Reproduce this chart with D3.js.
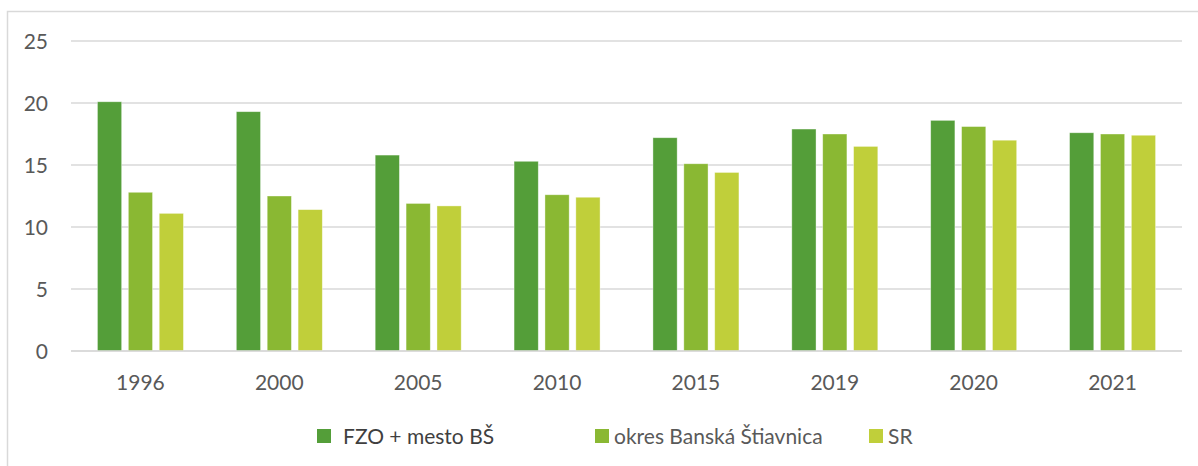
<!DOCTYPE html>
<html>
<head>
<meta charset="utf-8">
<script src="https://cdn.jsdelivr.net/npm/d3@7"></script>
<style>
  html, body { margin: 0; padding: 0; background: #fff; }
  svg { display: block; }
  text { font-family: Lato, "Open Sans", sans-serif; }
</style>
</head>
<body>
<svg id="chart" width="1198" height="466"></svg>
<script>
const categories = ["1996", "2000", "2005", "2010", "2015", "2019", "2020", "2021"];
const seriesNames = ["FZO + mesto BŠ", "okres Banská Štiavnica", "SR"];
const fzo   = [20.1, 19.3, 15.8, 15.3, 17.2, 17.9, 18.6, 17.6];
const okres = [12.8, 12.5, 11.9, 12.6, 15.1, 17.5, 18.1, 17.5];
const sr    = [11.1, 11.4, 11.7, 12.4, 14.4, 16.5, 17.0, 17.4];
const yTicks = [0, 5, 10, 15, 20, 25];
const colors = ["#549E39", "#8AB833", "#C0CF3A"];

const values = [fzo, okres, sr];
const svg = d3.select("#chart");

// outer frame
svg.append("rect").attr("x", 7.5).attr("y", 11.5).attr("width", 1230).attr("height", 500)
  .attr("fill", "none").attr("stroke", "#D9D9D9").attr("stroke-width", 1.5);

const x = d3.scaleBand().domain(categories).range([71, 1182]).paddingInner(0).paddingOuter(0);
const xi = d3.scaleBand().domain(d3.range(seriesNames.length)).range([-43, 43]).paddingInner(0.216).paddingOuter(0);
const y = d3.scaleLinear().domain([0, 25]).range([351, 41]);

// gridlines
svg.append("g").selectAll("line").data(yTicks).join("line")
  .attr("x1", 71).attr("x2", 1182)
  .attr("y1", d => y(d)).attr("y2", d => y(d))
  .attr("stroke", "#D9D9D9").attr("stroke-width", 1.5);

// y labels
svg.append("g").selectAll("text").data(yTicks).join("text")
  .attr("x", 48).attr("y", d => y(d)).attr("dy", "0.36em")
  .attr("text-anchor", "end").attr("fill", "#595959").attr("font-size", 21)
  .text(d => d);

// bars
const groups = svg.append("g").selectAll("g").data(categories).join("g")
  .attr("transform", d => `translate(${x(d) + x.bandwidth() / 2},0)`);
groups.selectAll("rect").data((d, i) => values.map((arr, s) => ({ s, v: arr[i] }))).join("rect")
  .attr("x", d => xi(d.s)).attr("width", xi.bandwidth())
  .attr("y", d => y(d.v)).attr("height", d => y(0) - y(d.v))
  .attr("fill", d => colors[d.s])
  .attr("stroke", "#ffffff").attr("stroke-opacity", 0.5).attr("stroke-width", 0.75);

// baseline redraw
svg.append("line").attr("x1", 71).attr("x2", 1182).attr("y1", y(0)).attr("y2", y(0))
  .attr("stroke", "#D9D9D9").attr("stroke-width", 1.5);

// x labels
svg.append("g").selectAll("text").data(categories).join("text")
  .attr("x", d => x(d) + x.bandwidth() / 2).attr("y", 390)
  .attr("text-anchor", "middle").attr("fill", "#595959").attr("font-size", 21)
  .text(d => d);

// legend
const legendX = [317, 595, 869];
const legend = svg.append("g").selectAll("g").data(seriesNames).join("g")
  .attr("transform", (d, i) => `translate(${legendX[i]},429)`);
legend.append("rect").attr("width", 14).attr("height", 14).attr("fill", (d, i) => colors[i]);
legend.append("text").attr("x", (d, i) => i === 0 ? 26 : 19).attr("y", 14.5)
  .attr("font-size", 21).attr("fill", (d, i) => i === 0 ? "#3F3F3F" : "#595959")
  .text(d => d);
</script>
</body>
</html>
